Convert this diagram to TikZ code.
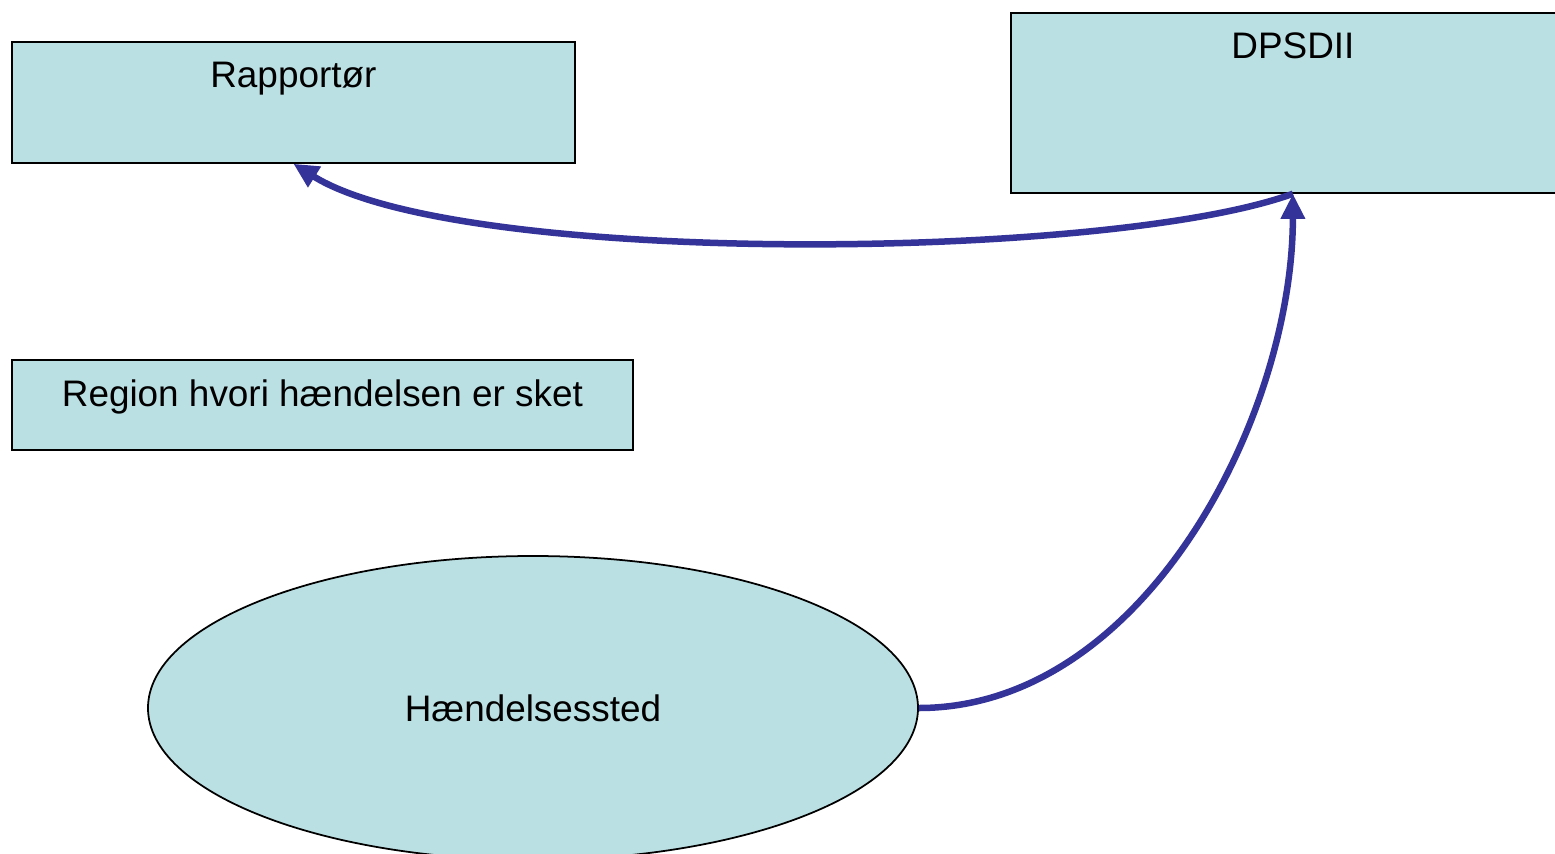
\documentclass[tikz,border=0pt]{standalone}
\usepackage{fontspec}
\setmainfont{Liberation Sans}
\usetikzlibrary{shapes.geometric, arrows.meta}
\definecolor{boxfill}{RGB}{187,224,227}
\definecolor{flowblue}{RGB}{51,51,153}
\tikzset{
    >={Triangle[length=0.5cm, width=0.46cm]},
    box/.style={draw, line width=1pt, fill=boxfill, anchor=north west},
    flow/.style={->, line width=0.13cm, draw=flowblue},
    every label/.style={font=\fontsize{21}{25}\selectfont},
}

\begin{document}
\begin{tikzpicture}[font=\fontsize{21}{25}\selectfont]
    \useasboundingbox (0,0) rectangle (31.1,-17.06);

    \node[box, minimum width=11.26cm, minimum height=2.42cm,
          label={[anchor=north, yshift=-0.3cm]north:Rapportør}] (rap) at (0.22,-0.82) {};
    \node[box, minimum width=11.28cm, minimum height=3.6cm,
          label={[anchor=north, yshift=-0.29cm]north:DPSDII}] (dps) at (20.2,-0.24) {};
    \node[box, minimum width=12.42cm, minimum height=1.8cm,
          label={[anchor=north, yshift=-0.29cm]north:Region hvori hændelsen er sket}] (region) at (0.22,-7.18) {};
    \node[draw, ellipse, line width=1pt, fill=boxfill, minimum width=15.4cm,
          minimum height=6.08cm] (site) at (10.66,-14.16) {Hændelsessted};

    \draw[flow] (dps.south) to[out=200, in=-32, looseness=0.5] (rap.south);
    \draw[flow] (site.east) to[out=0, in=-90, looseness=0.9] (dps.south);
\end{tikzpicture}
\end{document}
